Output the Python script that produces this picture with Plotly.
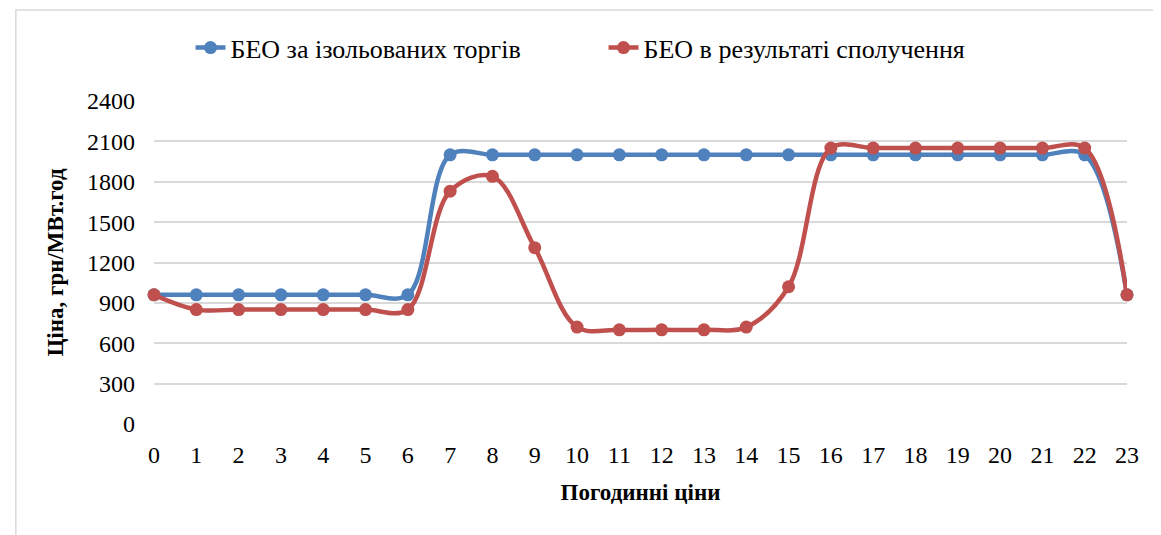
import plotly.graph_objects as go

hours = list(range(24))
isolated = [960, 960, 960, 960, 960, 960, 960, 2000, 2000, 2000, 2000, 2000, 2000, 2000,
            2000, 2000, 2000, 2000, 2000, 2000, 2000, 2000, 2000, 960]
combined = [960, 850, 850, 850, 850, 850, 850, 1730, 1840, 1310, 720, 700, 700, 700,
            720, 1020, 2050, 2050, 2050, 2050, 2050, 2050, 2050, 960]
y_ticks = [0, 300, 600, 900, 1200, 1500, 1800, 2100, 2400]

name1 = "БЕО за ізольованих торгів"
name2 = "БЕО в результаті сполучення"
blue = "#4f81bd"
red = "#c0504d"

fig = go.Figure()
fig.add_trace(go.Scatter(x=hours, y=isolated, name=name1, mode="lines+markers",
                         line=dict(color=blue, width=4.5, shape="spline", smoothing=1.0),
                         marker=dict(color=blue, size=13), cliponaxis=False))
fig.add_trace(go.Scatter(x=hours, y=combined, name=name2, mode="lines+markers",
                         line=dict(color=red, width=4.5, shape="spline", smoothing=1.0),
                         marker=dict(color=red, size=13), cliponaxis=False))

font = "Liberation Serif"
fig.update_layout(
    width=1153, height=527,
    margin=dict(l=146, r=34, t=93, b=111, autoexpand=False),
    paper_bgcolor="white", plot_bgcolor="white",
    font=dict(family=font, size=24, color="black"),
    showlegend=True,
    legend=dict(orientation="h", x=0.462, xanchor="center", y=1.165, yanchor="middle",
                font=dict(family=font, size=26), traceorder="normal",
                entrywidth=368, entrywidthmode="pixels"),
    xaxis=dict(range=[0, 23], tickvals=hours, ticktext=[str(h) for h in hours],
               showgrid=False, zeroline=False, showline=False, ticks="",
               ticklabelstandoff=14, tickfont=dict(family=font, size=24),
               title=dict(text="<b>Погодинні ціни</b>", font=dict(family=font, size=23), standoff=16)),
    yaxis=dict(range=[0, 2400], tickvals=y_ticks, showgrid=True, gridcolor="#d9d9d9",
               gridwidth=1.5, zeroline=False, showline=False, ticks="",
               ticklabelstandoff=18, tickfont=dict(family=font, size=24),
               title=dict(text="<b>Ціна, грн/МВт.год</b>", font=dict(family=font, size=23), standoff=16)),
    shapes=[dict(type="rect", xref="paper", yref="paper", x0=-0.142, x1=1.2, y0=-0.5, y1=1.282,
                 line=dict(color="#d9d9d9", width=1.5), fillcolor="rgba(0,0,0,0)", layer="below")],
)
fig.write_html("out.html")
